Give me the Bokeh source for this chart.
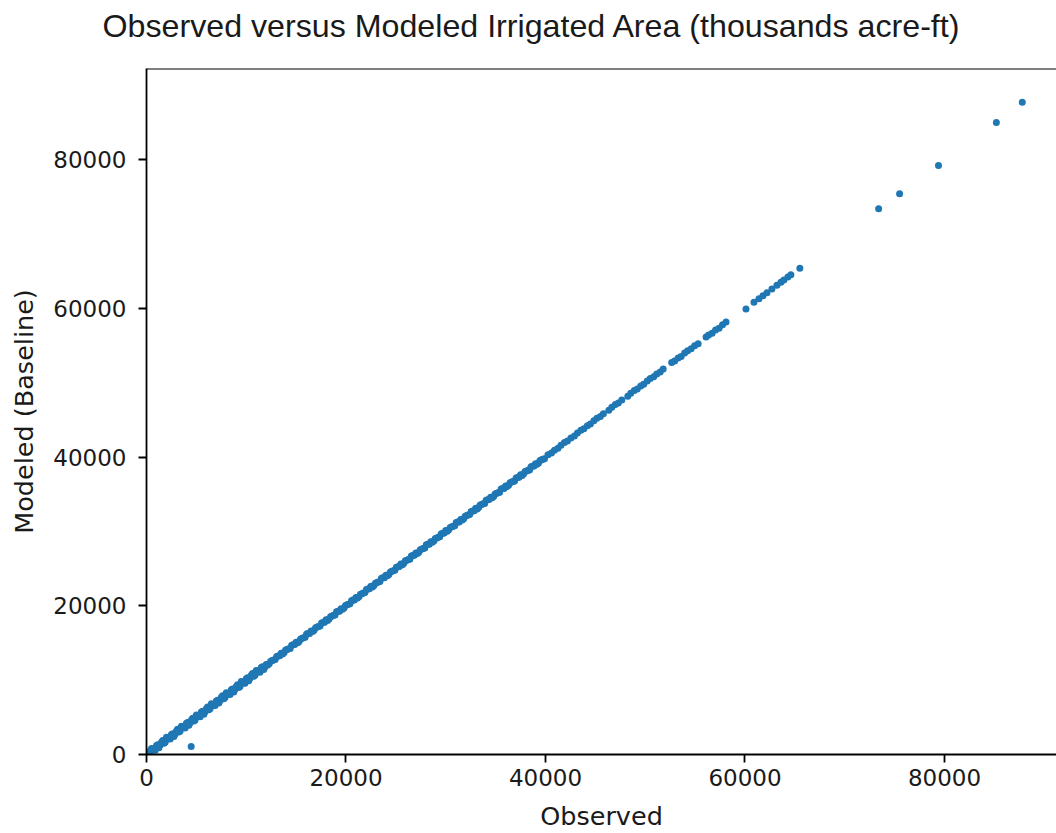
from bokeh.plotting import figure
from bokeh.models import Range1d, FixedTicker, Span, BasicTickFormatter, Title
from bokeh.embed import file_html
from bokeh.resources import INLINE

title_text = "Observed versus Modeled Irrigated Area (thousands acre-ft)"
x_label = "Observed"
y_label = "Modeled (Baseline)"
tick_values = [0, 20000, 40000, 60000, 80000]

# Observed values (x) and modeled values (y)
observed_low = [40, 125, 375, 625, 875, 1125, 1375, 1625, 1875, 2125, 2375, 2625, 2875, 3125, 3375,
                3625, 3875, 4125, 4375, 4625, 4875, 5125, 5375, 5625, 5875, 6125, 6375, 6625,
                6875, 7125, 7375, 7625, 7875, 8125, 8375, 8625, 8875, 9125, 9375, 9625, 9875,
                10125, 10375, 10625, 10875, 11125, 11375, 11625, 11875]
modeled_low = [60, 385, 155, 715, 575, 1305, 1265, 1885, 1655, 2215, 2075, 2805, 2765, 3385, 3155,
               3715, 3575, 4305, 4265, 4885, 4655, 5215, 5075, 5805, 5765, 6385, 6155, 6715,
               6575, 7305, 7265, 7885, 7655, 8215, 8075, 8805, 8765, 9385, 9155, 9715, 9575,
               10305, 10265, 10885, 10655, 11215, 11075, 11805, 11765]

observed_low2 = [250, 500, 750, 1000, 1250, 1500, 1750, 2000, 2250, 2500, 2750, 3000, 3250, 3500,
                 3750, 4000, 4250, 4500, 4750, 5000, 5250, 5500, 5750, 6000, 6250, 6500, 6750, 7000,
                 7250, 7500, 7750, 8000, 8250, 8500, 8750, 9000, 9250, 9500, 9750, 10000, 10250,
                 10500, 10750, 11000, 11250, 11500, 11750]
modeled_low2 = [10, 810, 630, 1200, 920, 1650, 1510, 2310, 2130, 2700, 2420, 3150, 3010, 3810,
                3630, 4200, 3920, 4650, 4510, 5310, 5130, 5700, 5420, 6150, 6010, 6810, 6630, 7200,
                6920, 7650, 7510, 8310, 8130, 8700, 8420, 9150, 9010, 9810, 9630, 10200, 9920,
                10650, 10510, 11310, 11130, 11700, 11420]

observed_mid = [12000, 12300, 12600, 12900, 13200, 13500, 13800, 14100, 14400, 14700, 15000, 15300,
                15600, 15900, 16200, 16500, 16800, 17100, 17400, 17700, 18000, 18300, 18600, 18900,
                19200, 19500, 19800, 20100, 20400, 20700, 21000, 21300, 21600, 21900, 22200, 22500,
                22800, 23100, 23400, 23700, 24000, 24300, 24600, 24900, 25200, 25500, 25800, 26100,
                26400, 26700, 27000, 27300, 27600, 27900, 28200, 28500, 28800, 29100, 29400, 29700,
                30000, 30300, 30600, 30900, 31200, 31500, 31800, 32100, 32400, 32700, 33000, 33300,
                33600, 33900, 34200, 34500, 34800, 35100, 35400, 35700, 36000, 36300, 36600, 36900,
                37200, 37500, 37800, 38100, 38400, 38700, 39000, 39300, 39600, 39900]
modeled_mid = [12110, 12210, 12630, 12770, 13260, 13610, 13710, 14130, 14270, 14760, 15110, 15210,
               15630, 15770, 16260, 16610, 16710, 17130, 17270, 17760, 18110, 18210, 18630, 18770,
               19260, 19610, 19710, 20130, 20270, 20760, 21110, 21210, 21630, 21770, 22260, 22610,
               22710, 23130, 23270, 23760, 24110, 24210, 24630, 24770, 25260, 25610, 25710, 26130,
               26270, 26760, 27110, 27210, 27630, 27770, 28260, 28610, 28710, 29130, 29270, 29760,
               30110, 30210, 30630, 30770, 31260, 31610, 31710, 32130, 32270, 32760, 33110, 33210,
               33630, 33770, 34260, 34610, 34710, 35130, 35270, 35760, 36110, 36210, 36630, 36770,
               37260, 37610, 37710, 38130, 38270, 38760, 39110, 39210, 39630, 39770]

observed_mid2 = [12150, 12450, 12750, 13050, 13350, 13650, 13950, 14250, 14550, 14850, 15150, 15450,
                 15750, 16050, 16350, 16650, 16950, 17250, 17550, 17850, 18150, 18450, 18750, 19050,
                 19350, 19650, 19950, 20250, 20550, 20850, 21150, 21450, 21750, 22050, 22350, 22650,
                 22950, 23250, 23550, 23850, 24150, 24450, 24750, 25050, 25350, 25650, 25950, 26250,
                 26550, 26850, 27150, 27450, 27750, 28050, 28350, 28650, 28950, 29250, 29550, 29850,
                 30150, 30450, 30750, 31050, 31350, 31650, 31950, 32250, 32550, 32850, 33150, 33450,
                 33750, 34050, 34350, 34650, 34950, 35250, 35550, 35850, 36150, 36450, 36750, 37050,
                 37350, 37650, 37950, 38250, 38550, 38850, 39150, 39450, 39750]
modeled_mid2 = [12030, 12540, 12710, 13190, 13280, 13530, 14040, 14210, 14690, 14780, 15030, 15540,
                15710, 16190, 16280, 16530, 17040, 17210, 17690, 17780, 18030, 18540, 18710, 19190,
                19280, 19530, 20040, 20210, 20690, 20780, 21030, 21540, 21710, 22190, 22280, 22530,
                23040, 23210, 23690, 23780, 24030, 24540, 24710, 25190, 25280, 25530, 26040, 26210,
                26690, 26780, 27030, 27540, 27710, 28190, 28280, 28530, 29040, 29210, 29690, 29780,
                30030, 30540, 30710, 31190, 31280, 31530, 32040, 32210, 32690, 32780, 33030, 33540,
                33710, 34190, 34280, 34530, 35040, 35210, 35690, 35780, 36030, 36540, 36710, 37190,
                37280, 37530, 38040, 38210, 38690, 38780, 39030, 39540, 39710]

observed_high = [40250, 40600, 40900, 41250, 41550, 41900, 42200, 42550, 42900, 43200, 43550, 43850,
                 44200, 44500, 44850, 45150, 45500, 45800, 46350, 46650, 47000, 47300, 47650, 48250,
                 48550, 48900, 49200, 49550, 49850, 50200, 50500, 50850, 51150, 51500, 51800, 52650,
                 52950, 53300, 53600, 53950, 54250, 54600, 54950, 55300, 56100, 56350, 56700, 57050,
                 57400, 57750, 58100,
                 60100, 60900, 61400, 61800, 62200, 62700, 63200, 63600, 63900, 64300, 64600, 65500,
                 73400, 75500, 79400, 85200, 87800]
modeled_high = [40310, 40560, 40920, 41180, 41590, 41960, 42160, 42570, 42830, 43240, 43610, 43810,
                44220, 44430, 44890, 45210, 45460, 45820, 46280, 46690, 47060, 47260, 47670, 48180,
                48590, 48960, 49160, 49570, 49780, 50240, 50560, 50810, 51170, 51430, 51840, 52710,
                52910, 53320, 53530, 53990, 54310, 54560, 54970, 55230, 56140, 56410, 56660, 57070,
                57330, 57790, 58160,
                59900, 60800, 61300, 61700, 62100, 62600, 63100, 63500, 63800, 64200, 64500, 65400,
                73400, 75400, 79200, 85000, 87700]

observed_outlier = [4480]
modeled_outlier = [1080]

observed = observed_low + observed_low2 + observed_mid + observed_mid2 + observed_high + observed_outlier
modeled = modeled_low + modeled_low2 + modeled_mid + modeled_mid2 + modeled_high + modeled_outlier

p = figure(width=1056, height=833, output_backend="svg", toolbar_location=None,
           x_range=Range1d(0, 91230), y_range=Range1d(0, 92250),
           min_border_left=146, min_border_right=0, min_border_top=68, min_border_bottom=79,
           title=None)

# spacer between the frame and the title, then the title itself
spacer = Title(text=" ", text_font_size="2px", standoff=20)
p.add_layout(spacer, "above")
main_title = Title(text=title_text, text_font="Liberation Sans", text_font_size="32.2px",
                   text_font_style="normal", text_color="#1a1a1a", align="left",
                   offset=-44, vertical_align="bottom", standoff=2)
p.add_layout(main_title, "above")

p.scatter(observed, modeled, size=7, color="#1f77b4", line_color=None)

p.xgrid.visible = False
p.ygrid.visible = False
p.outline_line_color = None
p.background_fill_color = "white"
p.border_fill_color = "white"

top_spine = Span(location=92250, dimension="width", line_color="black", line_width=1.8)
p.add_layout(top_spine)

for ax in (p.xaxis[0], p.yaxis[0]):
    ax.ticker = FixedTicker(ticks=tick_values)
    ax.formatter = BasicTickFormatter(use_scientific=False)
    ax.minor_tick_line_color = None
    ax.major_tick_in = 0
    ax.major_tick_out = 8
    ax.major_tick_line_width = 1.8
    ax.axis_line_width = 1.8
    ax.axis_line_color = "black"
    ax.major_tick_line_color = "black"
    ax.major_label_text_font = "DejaVu Sans"
    ax.major_label_text_font_size = "23px"
    ax.major_label_text_color = "#1a1a1a"
    ax.axis_label_text_font = "DejaVu Sans"
    ax.axis_label_text_font_size = "25.5px"
    ax.axis_label_text_font_style = "normal"
    ax.axis_label_text_color = "#1a1a1a"

p.xaxis.axis_label = x_label
p.yaxis.axis_label = y_label
p.xaxis.major_label_standoff = 6
p.xaxis.axis_label_standoff = 12
p.yaxis.major_label_standoff = 12
p.yaxis.axis_label_standoff = 11

open("out.html", "w").write(file_html(p, INLINE))
